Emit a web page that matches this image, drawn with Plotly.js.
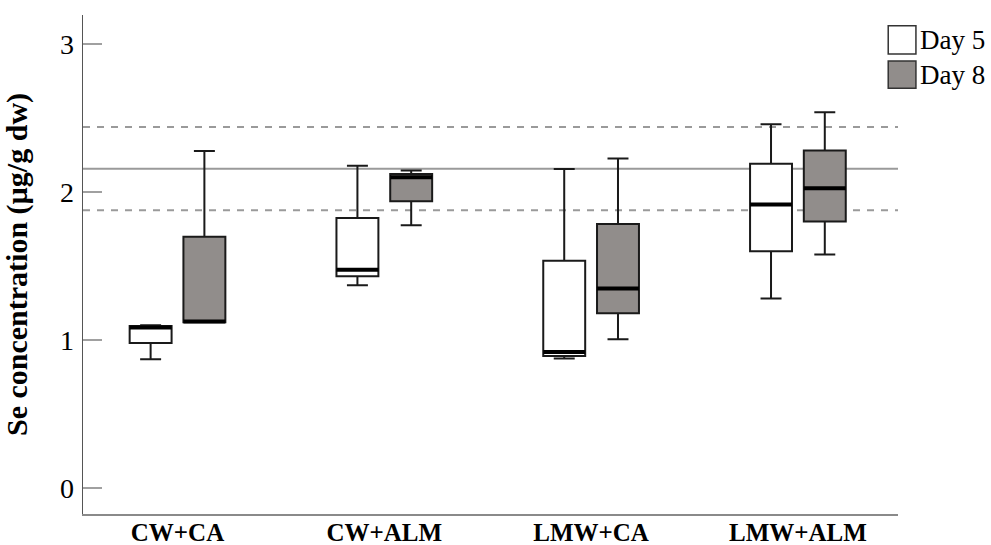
<!DOCTYPE html>
<html>
<head>
<meta charset="utf-8">
<script src="https://cdn.plot.ly/plotly-3.0.1.min.js"></script>
<style>
  html, body { margin: 0; padding: 0; background: #ffffff; }
  #chart { width: 991px; height: 545px; }
</style>
</head>
<body>
<div id="chart"></div>
<script>
// Treatments on the category axis
const categories = ['CW+CA', 'CW+ALM', 'LMW+CA', 'LMW+ALM'];

// Se concentration (µg/g dw), Day 5 box statistics
const day5Lower  = [0.87, 1.37, 0.875, 1.28];
const day5Q1     = [0.98, 1.43, 0.892, 1.60];
const day5Median = [1.085, 1.475, 0.918, 1.915];
const day5Q3     = [1.095, 1.825, 1.535, 2.19];
const day5Upper  = [1.10, 2.178, 2.155, 2.457];

// Se concentration (µg/g dw), Day 8 box statistics
const day8Lower  = [1.12, 1.775, 1.005, 1.577];
const day8Q1     = [1.12, 1.937, 1.18, 1.80];
const day8Median = [1.125, 2.10, 1.347, 2.025];
const day8Q3     = [1.698, 2.122, 1.784, 2.281];
const day8Upper  = [2.277, 2.146, 2.227, 2.538];

// Horizontal reference levels: mean and its upper / lower band
const refMean  = 2.157;
const refBand  = [2.44, 1.876];

const seriesNames = ['Day 5', 'Day 8'];
const yTicks = [0, 1, 2, 3];

const BOX_LINE = '#1a1a1a';
const DAY8_FILL = '#918d8b';
const SERIF = '"Liberation Serif", "Times New Roman", serif';

function boxTrace(name, group, fill, lo, q1, med, q3, hi) {
  return {
    type: 'box', name: name, x: categories,
    lowerfence: lo, q1: q1, median: med, q3: q3, upperfence: hi,
    offsetgroup: group, alignmentgroup: 'all',
    fillcolor: fill, line: { color: BOX_LINE, width: 2 },
    whiskerwidth: 0.5, boxpoints: false, showlegend: false, hoverinfo: 'skip'
  };
}

// Thick median bar drawn on top of each box
function medianTrace(group, med) {
  return {
    type: 'box', x: categories,
    lowerfence: med, q1: med, median: med, q3: med, upperfence: med,
    offsetgroup: group, alignmentgroup: 'all',
    fillcolor: 'rgba(0,0,0,0)', line: { color: '#000000', width: 4 },
    whiskerwidth: 0, boxpoints: false, showlegend: false, hoverinfo: 'skip'
  };
}

const traces = [
  boxTrace(seriesNames[0], 'd5', '#ffffff', day5Lower, day5Q1, day5Median, day5Q3, day5Upper),
  boxTrace(seriesNames[1], 'd8', DAY8_FILL, day8Lower, day8Q1, day8Median, day8Q3, day8Upper),
  medianTrace('d5', day5Median),
  medianTrace('d8', day8Median)
];

const refLineColor = '#9a9a9a';
const shapes = [
  { type: 'line', xref: 'paper', yref: 'y', x0: 0, x1: 1, y0: refMean, y1: refMean,
    line: { color: refLineColor, width: 2 }, layer: 'below' }
].concat(refBand.map(v => ({
  type: 'line', xref: 'paper', yref: 'y', x0: 0, x1: 1, y0: v, y1: v,
  line: { color: refLineColor, width: 2, dash: '7px,7px' }, layer: 'below'
})));

// Legend swatches
const legendFills = ['#ffffff', DAY8_FILL];
const legendRows = [[0.9786, 0.9218], [0.9078, 0.853]];
legendRows.forEach((r, i) => {
  shapes.push({
    type: 'rect', xref: 'paper', yref: 'paper',
    x0: 0.988, x1: 1.022, y0: r[1], y1: r[0],
    fillcolor: legendFills[i], line: { color: '#333333', width: 1.5 }
  });
});

const annotations = seriesNames.map((n, i) => ({
  text: n, xref: 'paper', yref: 'paper', x: 1.024,
  y: (legendRows[i][0] + legendRows[i][1]) / 2,
  xanchor: 'left', yanchor: 'middle', showarrow: false,
  font: { family: SERIF, size: 27, color: '#000000' }
}));

const layout = {
  width: 991, height: 545,
  margin: { l: 83, r: 93, t: 15, b: 31 },
  paper_bgcolor: '#ffffff', plot_bgcolor: '#ffffff',
  boxmode: 'group', boxgap: 0.48, boxgroupgap: 0.22,
  showlegend: false,
  xaxis: {
    type: 'category', range: [-0.457, 3.484],
    showline: true, linecolor: '#8a8a8a', linewidth: 2,
    ticks: '', showgrid: false, zeroline: false, automargin: false,
    ticklabelstandoff: -5,
    tickfont: { family: SERIF, size: 25, color: '#000000', weight: 'bold' }
  },
  yaxis: {
    range: [-0.176, 3.196], tickvals: yTicks, ticktext: yTicks.map(String),
    showline: true, linecolor: '#555555', linewidth: 1.5,
    ticks: 'inside', ticklen: 19, tickwidth: 1.5, tickcolor: '#a0a0a0',
    ticklabelstandoff: 2,
    showgrid: false, zeroline: false, automargin: false,
    tickfont: { family: SERIF, size: 28, color: '#000000' },
    title: { text: 'Se concentration (µg/g dw)', standoff: -3,
      font: { family: SERIF, size: 30, color: '#000000', weight: 'bold' } }
  },
  shapes: shapes,
  annotations: annotations
};

Plotly.newPlot('chart', traces, layout, { staticPlot: true, displayModeBar: false });
</script>
</body>
</html>
